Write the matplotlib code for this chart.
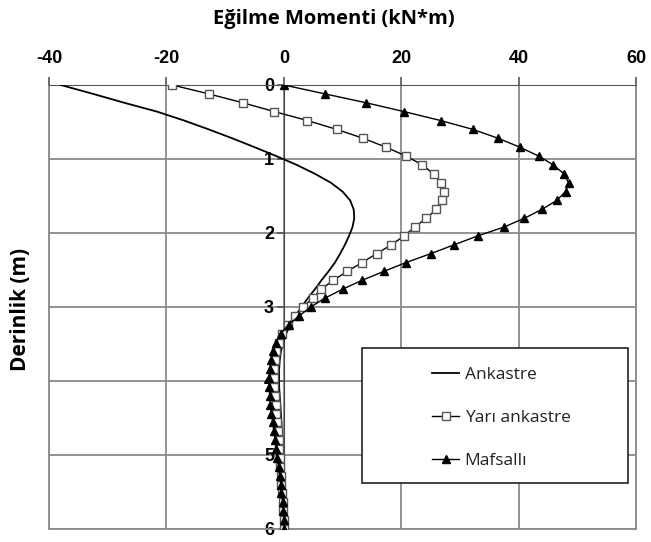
import matplotlib
matplotlib.use('Agg')
import matplotlib.pyplot as plt
from matplotlib.patches import Rectangle

plt.rcParams['axes.unicode_minus'] = False

# depth (m) - one value per marker
depth = [0.00, 0.12, 0.24, 0.36, 0.48, 0.60, 0.72, 0.84, 0.96, 1.08,
         1.20, 1.32, 1.44, 1.56, 1.68, 1.80, 1.92, 2.04, 2.16, 2.28,
         2.40, 2.52, 2.64, 2.76, 2.88, 3.00, 3.12, 3.24, 3.36, 3.48,
         3.60, 3.72, 3.84, 3.96, 4.08, 4.20, 4.32, 4.44, 4.56, 4.68,
         4.80, 4.92, 5.04, 5.16, 5.28, 5.40, 5.52, 5.64, 5.76, 5.88, 6.00]

# bending moment (kN*m)
ankastre = [-38.0, -32.5, -27.2, -21.6, -17.0, -12.8, -8.8, -5.0, -1.3, 2.2,
            5.3, 8.0, 10.0, 11.3, 11.9, 12.0, 11.7, 11.1, 10.4, 9.6,
            8.7, 7.6, 6.4, 5.3, 4.1, 3.0, 2.0, 1.1, 0.4, -0.1,
            -0.5, -0.7, -0.8, -0.8, -0.8, -0.7, -0.6, -0.5, -0.4, -0.35,
            -0.3, -0.25, -0.2, -0.2, -0.15, -0.1, -0.1, -0.05, 0.0, 0.0, 0.0]

yari_ankastre = [-19.0, -12.8, -7.0, -1.6, 4.0, 9.0, 13.5, 17.4, 20.8, 23.6,
                 25.5, 26.8, 27.3, 27.0, 26.0, 24.3, 22.3, 20.5, 18.3, 15.8,
                 13.3, 10.8, 8.4, 6.4, 4.9, 3.3, 1.9, 0.7, -0.3, -0.9,
                 -1.3, -1.5, -1.6, -1.6, -1.6, -1.5, -1.4, -1.3, -1.2, -1.0,
                 -0.9, -0.8, -0.7, -0.6, -0.5, -0.4, -0.3, -0.2, -0.1, -0.05, 0.0]

mafsalli = [0.0, 7.0, 14.0, 20.5, 26.7, 32.2, 36.5, 40.2, 43.4, 45.9,
            47.7, 48.5, 48.0, 46.5, 44.0, 41.0, 37.5, 33.0, 29.0, 25.0,
            20.8, 17.0, 13.3, 10.0, 7.0, 4.6, 2.6, 0.8, -0.5, -1.3,
            -1.9, -2.2, -2.4, -2.5, -2.5, -2.4, -2.3, -2.1, -1.9, -1.7,
            -1.5, -1.3, -1.1, -0.9, -0.7, -0.5, -0.4, -0.2, -0.1, 0.0, 0.1]

xticks = [-40, -20, 0, 20, 40, 60]
yticks = [0, 1, 2, 3, 4, 5, 6]

fig = plt.figure(figsize=(6.51, 5.42), dpi=100)
ax = fig.add_axes([0.0753, 0.024, 0.9017, 0.8192])

ax.plot(ankastre, depth, color='black', lw=1.3, label='Ankastre', zorder=3)
ax.plot(yari_ankastre, depth, color='black', lw=1.0, marker='s', markersize=5.5,
        markerfacecolor='white', markeredgecolor='#555555', markeredgewidth=1.0,
        label='Yarı ankastre', zorder=3)
ax.plot(mafsalli, depth, color='black', lw=1.0, marker='^', markersize=6,
        markerfacecolor='black', markeredgecolor='black', label='Mafsallı', zorder=3)

ax.set_xlim(-40, 60)
ax.set_ylim(6, 0)
ax.set_xticks(xticks)
ax.set_yticks(yticks)
ax.grid(True, color='#8a8a8a', lw=1.3, zorder=0)

ax.xaxis.tick_top()
ax.spines['left'].set_position(('data', 0))
ax.spines['left'].set_color('#444444')
ax.spines['top'].set_color('#555555')
for s in ['right', 'bottom']:
    ax.spines[s].set_color('#8a8a8a')
    ax.spines[s].set_linewidth(1.3)
ax.axvline(-40, color='#8a8a8a', lw=1.3, zorder=0, clip_on=False)

ax.tick_params(axis='x', direction='out', length=6, width=1.2, color='#555555', pad=7)
ax.tick_params(axis='y', direction='out', length=5, width=1.2, color='#555555', pad=2)
for lab in ax.get_xticklabels() + ax.get_yticklabels():
    lab.set_fontfamily('Liberation Sans')
    lab.set_fontweight('bold')
    lab.set_fontsize(13)

fig.text(0.513, 0.965, 'Eğilme Momenti (kN*m)', ha='center', va='center',
         fontsize=14.5, fontweight='bold', family='Open Sans')
fig.text(0.031, 0.430, 'Derinlik (m)', ha='center', va='center', rotation=90,
         fontsize=15, fontweight='bold', family='Open Sans')

# legend box
box = Rectangle((362 / 651, 1 - 483 / 542), 266 / 651, 135 / 542, transform=fig.transFigure,
                facecolor='white', edgecolor='#222222', lw=1.2, zorder=4)
fig.patches.append(box)
leg = fig.legend(loc='upper left', bbox_to_anchor=(416 / 651, 1 - 351 / 542),
                 frameon=False, handlelength=1.6, handletextpad=0.3,
                 labelspacing=1.55, prop={'family': 'Open Sans', 'size': 12.5})
for t in leg.get_texts():
    t.set_color('#222222')

plt.savefig('out.png', dpi=100)
plt.close()
